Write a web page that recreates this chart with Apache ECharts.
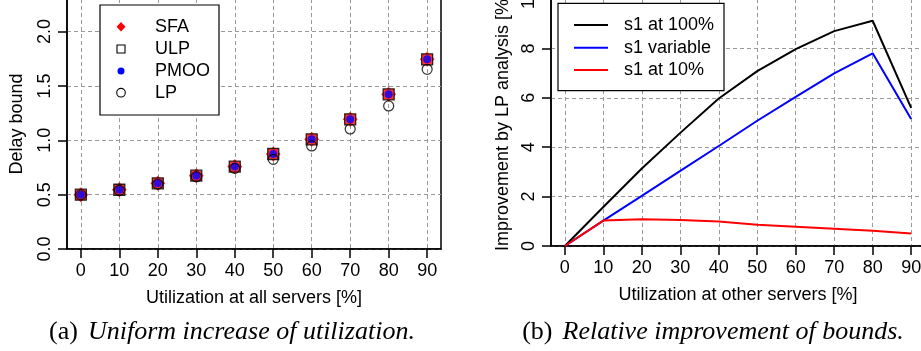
<!DOCTYPE html>
<html>
<head>
<meta charset="utf-8">
<script src="https://cdn.jsdelivr.net/npm/echarts@6/dist/echarts.min.js"></script>
<style>
html,body{margin:0;padding:0;background:#fff;}
#c{width:921px;height:351px;}
</style>
</head>
<body>
<div id="c"></div>
<script>
// ---- data ----
var xValues = [0, 10, 20, 30, 40, 50, 60, 70, 80, 90];
// (a) Delay bounds
var sfa  = [0.500, 0.545, 0.604, 0.675, 0.758, 0.874, 1.009, 1.193, 1.423, 1.745];
var ulp  = [0.500, 0.545, 0.604, 0.675, 0.758, 0.874, 1.009, 1.193, 1.423, 1.745];
var pmoo = [0.500, 0.545, 0.604, 0.675, 0.758, 0.874, 1.009, 1.193, 1.423, 1.745];
var lp   = [0.498, 0.540, 0.598, 0.665, 0.742, 0.825, 0.948, 1.104, 1.316, 1.653];
// (b) Improvement by LP analysis [%]
var s1At100  = [0, 1.58, 3.14, 4.58, 5.97, 7.08, 7.97, 8.70, 9.12, 5.59];
var s1Var    = [0, 1.03, 2.03, 3.04, 4.05, 5.07, 6.04, 6.99, 7.80, 5.14];
var s1At10   = [0, 1.03, 1.08, 1.05, 0.99, 0.86, 0.78, 0.70, 0.62, 0.51];
// tick labels
var xTicks = [0, 10, 20, 30, 40, 50, 60, 70, 80, 90];
var yTicksA = [0, 0.5, 1.0, 1.5, 2.0];
var yTicksB = [0, 2, 4, 6, 8, 10];
var namesA = ['SFA', 'ULP', 'PMOO', 'LP'];
var namesB = ['s1 at 100%', 's1 variable', 's1 at 10%'];

function pairs(xs, ys) { return xs.map(function (x, i) { return [x, ys[i]]; }); }

var FONT = 'Liberation Sans';
var FS = 18;
var axisLineStyle = { color: '#000', width: 1.5 };
var splitStyle = { color: '#9a9a9a', width: 1, type: [4, 3] };

function xAxisCfg(gridIndex, name) {
  return {
    type: 'value', gridIndex: gridIndex, min: -3.6, max: 93.6,
    name: name, nameLocation: 'middle', nameGap: 40,
    nameTextStyle: { fontFamily: FONT, fontSize: FS, color: '#000' },
    axisLine: { show: true, onZero: false, lineStyle: axisLineStyle },
    axisTick: { show: true, length: 9, lineStyle: axisLineStyle, customValues: xTicks },
    axisLabel: { customValues: xTicks, margin: 13, fontFamily: FONT, fontSize: FS, color: '#000' },
    splitLine: { show: true, lineStyle: splitStyle }
  };
}
function yAxisCfg(gridIndex, name, max, ticks, dec, nameGap) {
  return {
    type: 'value', gridIndex: gridIndex, min: 0, max: max,
    name: name, nameLocation: 'middle', nameGap: nameGap,
    nameTextStyle: { fontFamily: FONT, fontSize: FS, color: '#000' },
    axisLine: { show: true, onZero: false, lineStyle: axisLineStyle },
    axisTick: { show: true, length: 9, lineStyle: axisLineStyle, customValues: ticks },
    axisLabel: { customValues: ticks, rotate: 90, margin: 13, fontFamily: FONT, fontSize: FS, color: '#000',
      formatter: function (v) { return v.toFixed(dec); } },
    splitLine: { show: true, lineStyle: splitStyle }
  };
}

var sfaPath = 'path://M0,-1 L0.27,-0.73 L0.73,-0.73 L0.73,-0.27 L1,0 L0.73,0.27 L0.73,0.73 L0.27,0.73 L0,1 L-0.27,0.73 L-0.73,0.73 L-0.73,0.27 L-1,0 L-0.73,-0.27 L-0.73,-0.73 L-0.27,-0.73 Z';

var capRich = {
  r: { fontFamily: 'Liberation Serif', fontSize: 26, fill: '#000', padding: [0, 10, 0, 0] },
  i: { fontFamily: 'Liberation Serif', fontStyle: 'italic', fontSize: 26, fill: '#000' }
};

var option = {
  animation: false,
  backgroundColor: '#fff',
  grid: [
    { left: 67, right: 480, top: -1, bottom: 102, outerBoundsMode: 'none', containLabel: false,
      show: true, borderColor: '#000', borderWidth: 1.5, backgroundColor: 'transparent' },
    { left: 551, right: -4, top: -1, bottom: 105, outerBoundsMode: 'none', containLabel: false,
      show: true, borderColor: '#000', borderWidth: 1.5, backgroundColor: 'transparent' }
  ],
  xAxis: [
    xAxisCfg(0, 'Utilization at all servers [%]'),
    xAxisCfg(1, 'Utilization at other servers [%]')
  ],
  yAxis: [
    yAxisCfg(0, 'Delay bound', 2.3, yTicksA, 1, 41),
    yAxisCfg(1, 'Improvement by LP analysis [%]', 10, yTicksB, 0, 39)
  ],
  series: [
    { name: namesA[0], type: 'scatter', xAxisIndex: 0, yAxisIndex: 0, data: pairs(xValues, sfa),
      symbol: sfaPath, symbolSize: 15, itemStyle: { color: '#ff0000' }, z: 2 },
    { name: namesA[1], type: 'scatter', xAxisIndex: 0, yAxisIndex: 0, data: pairs(xValues, ulp),
      symbol: 'rect', symbolSize: 11, itemStyle: { color: 'rgba(0,0,0,0)', borderColor: '#000', borderWidth: 1.3 }, z: 3 },
    { name: namesA[2], type: 'scatter', xAxisIndex: 0, yAxisIndex: 0, data: pairs(xValues, pmoo),
      symbol: 'circle', symbolSize: 8, itemStyle: { color: '#0000ff' }, z: 4 },
    { name: namesA[3], type: 'scatter', xAxisIndex: 0, yAxisIndex: 0, data: pairs(xValues, lp),
      symbol: 'circle', symbolSize: 10, itemStyle: { color: 'rgba(0,0,0,0)', borderColor: '#000', borderWidth: 1.2 }, z: 5 },
    { name: namesB[0], type: 'line', xAxisIndex: 1, yAxisIndex: 1, data: pairs(xValues, s1At100),
      symbol: 'none', lineStyle: { color: '#000', width: 2 }, itemStyle: { color: '#000' }, z: 2 },
    { name: namesB[1], type: 'line', xAxisIndex: 1, yAxisIndex: 1, data: pairs(xValues, s1Var),
      symbol: 'none', lineStyle: { color: '#0000ff', width: 2 }, itemStyle: { color: '#0000ff' }, z: 3 },
    { name: namesB[2], type: 'line', xAxisIndex: 1, yAxisIndex: 1, data: pairs(xValues, s1At10),
      symbol: 'none', lineStyle: { color: '#ff0000', width: 2 }, itemStyle: { color: '#ff0000' }, z: 4 }
  ],
  graphic: [
    // legend (a)
    { type: 'rect', z: 100, shape: { x: 100, y: 5, width: 119, height: 110 },
      style: { fill: '#fff', stroke: '#000', lineWidth: 1.2 } },
    { type: 'polygon', z: 101, shape: { points: [[121, 22], [125.5, 26.7], [121, 31.4], [116.5, 26.7]] },
      style: { fill: '#ff0000' } },
    { type: 'rect', z: 101, shape: { x: 117, y: 45, width: 8, height: 8 },
      style: { fill: 'none', stroke: '#000', lineWidth: 1.1 } },
    { type: 'circle', z: 101, shape: { cx: 121, cy: 71, r: 3.5 }, style: { fill: '#0000ff' } },
    { type: 'circle', z: 101, shape: { cx: 121, cy: 92.7, r: 4.3 },
      style: { fill: 'none', stroke: '#000', lineWidth: 1.1 } },
    { type: 'text', z: 101, x: 155, y: 26.7, style: { text: namesA[0], font: FS + 'px "' + FONT + '"', fill: '#000', verticalAlign: 'middle' } },
    { type: 'text', z: 101, x: 155, y: 49, style: { text: namesA[1], font: FS + 'px "' + FONT + '"', fill: '#000', verticalAlign: 'middle' } },
    { type: 'text', z: 101, x: 155, y: 71, style: { text: namesA[2], font: FS + 'px "' + FONT + '"', fill: '#000', verticalAlign: 'middle' } },
    { type: 'text', z: 101, x: 155, y: 92.7, style: { text: namesA[3], font: FS + 'px "' + FONT + '"', fill: '#000', verticalAlign: 'middle' } },
    // legend (b)
    { type: 'rect', z: 100, shape: { x: 558, y: 3.3, width: 166, height: 87.4 },
      style: { fill: '#fff', stroke: '#000', lineWidth: 1.2 } },
    { type: 'line', z: 101, shape: { x1: 574, y1: 25, x2: 608, y2: 25 }, style: { stroke: '#000', lineWidth: 2 } },
    { type: 'line', z: 101, shape: { x1: 574, y1: 47.7, x2: 608, y2: 47.7 }, style: { stroke: '#0000ff', lineWidth: 2 } },
    { type: 'line', z: 101, shape: { x1: 574, y1: 70, x2: 608, y2: 70 }, style: { stroke: '#ff0000', lineWidth: 2 } },
    { type: 'text', z: 101, x: 624, y: 25, style: { text: namesB[0], font: FS + 'px "' + FONT + '"', fill: '#000', verticalAlign: 'middle' } },
    { type: 'text', z: 101, x: 624, y: 47.7, style: { text: namesB[1], font: FS + 'px "' + FONT + '"', fill: '#000', verticalAlign: 'middle' } },
    { type: 'text', z: 101, x: 624, y: 70, style: { text: namesB[2], font: FS + 'px "' + FONT + '"', fill: '#000', verticalAlign: 'middle' } },
    // captions
    { type: 'text', z: 101, x: 232, y: 332,
      style: { text: '{r|(a)}{i|Uniform increase of utilization.}', align: 'center', verticalAlign: 'middle', fill: '#000', rich: capRich } },
    { type: 'text', z: 101, x: 713, y: 332,
      style: { text: '{r|(b)}{i|Relative improvement of bounds.}', align: 'center', verticalAlign: 'middle', fill: '#000', rich: capRich } }
  ]
};

var chart = echarts.init(document.getElementById('c'), null, { renderer: 'canvas' });
chart.setOption(option);
</script>
</body>
</html>
